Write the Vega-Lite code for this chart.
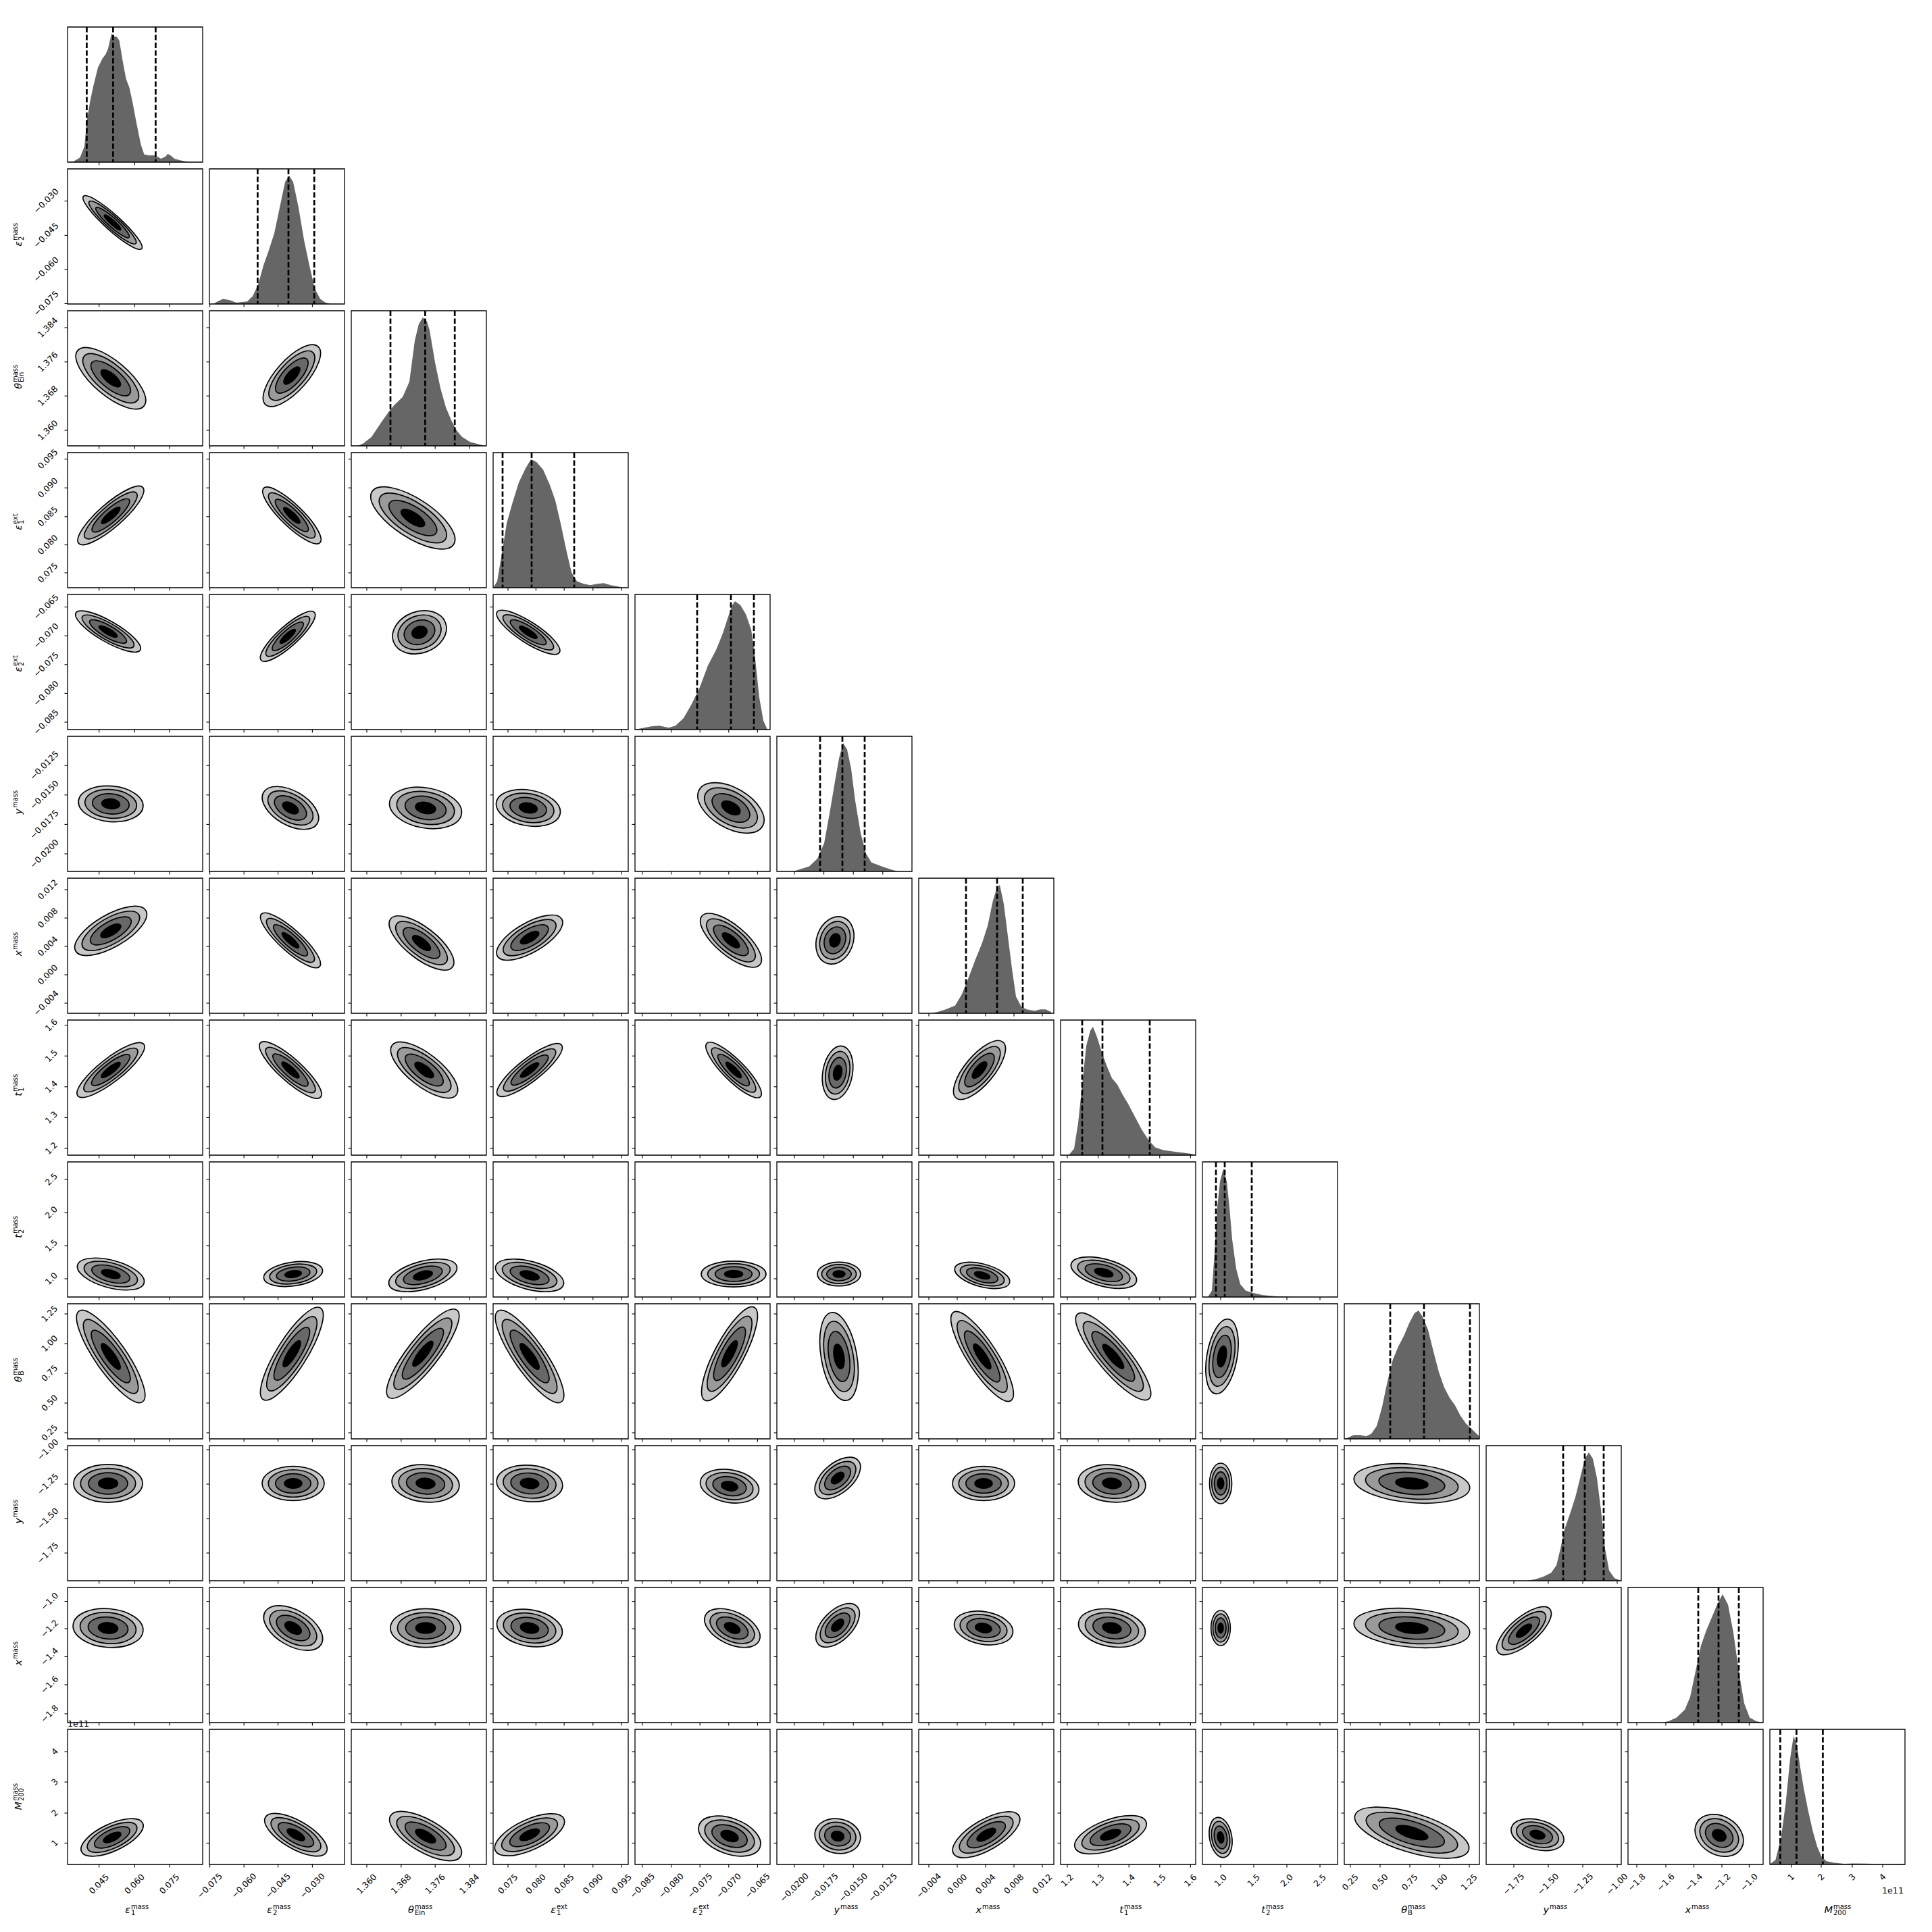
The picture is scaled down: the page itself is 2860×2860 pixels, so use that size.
{
"$schema": "https://vega.github.io/schema/vega-lite/v6.json",
"width": 2860, "height": 2860,
"autosize": {"type": "fit", "contains": "padding"},
"padding": 0,
"background": "white",
"config": {"view": {"stroke": null}},
"datasets": {
"params": [
{"i":0,"tx":[0.2335,0.4965,0.755],"tl":["0.045","0.060","0.075"],"q":[0.142,0.337,0.652],"m":"ε","sb":"1","sp":"mass"},
{"i":1,"tx":[0.003,0.256,0.508,0.762],"tl":["−0.075","−0.060","−0.045","−0.030"],"q":[0.357,0.585,0.776],"m":"ε","sb":"2","sp":"mass"},
{"i":2,"tx":[0.115,0.369,0.621,0.875],"tl":["1.360","1.368","1.376","1.384"],"q":[0.29,0.547,0.766],"m":"θ","sb":"Ein","sp":"mass"},
{"i":3,"tx":[0.11,0.317,0.526,0.739,0.952],"tl":["0.075","0.080","0.085","0.090","0.095"],"q":[0.07,0.285,0.6],"m":"ε","sb":"1","sp":"ext"},
{"i":4,"tx":[0.055,0.268,0.481,0.694,0.907],"tl":["−0.085","−0.080","−0.075","−0.070","−0.065"],"q":[0.46,0.71,0.88],"m":"ε","sb":"2","sp":"ext"},
{"i":5,"tx":[0.13,0.348,0.566,0.784],"tl":["−0.0200","−0.0175","−0.0150","−0.0125"],"q":[0.32,0.485,0.65],"m":"y","sb":"","sp":"mass"},
{"i":6,"tx":[0.075,0.285,0.495,0.705,0.915],"tl":["−0.004","0.000","0.004","0.008","0.012"],"q":[0.35,0.58,0.77],"m":"x","sb":"","sp":"mass"},
{"i":7,"tx":[0.05,0.278,0.506,0.734,0.962],"tl":["1.2","1.3","1.4","1.5","1.6"],"q":[0.16,0.31,0.66],"m":"t","sb":"1","sp":"mass"},
{"i":8,"tx":[0.135,0.38,0.625,0.87],"tl":["1.0","1.5","2.0","2.5"],"q":[0.1,0.165,0.365],"m":"t","sb":"2","sp":"mass"},
{"i":9,"tx":[0.045,0.265,0.485,0.705,0.925],"tl":["0.25","0.50","0.75","1.00","1.25"],"q":[0.34,0.59,0.93],"m":"θ","sb":"B","sp":"mass"},
{"i":10,"tx":[0.205,0.46,0.715,0.97],"tl":["−1.75","−1.50","−1.25","−1.00"],"q":[0.57,0.73,0.87],"m":"y","sb":"","sp":"mass"},
{"i":11,"tx":[0.065,0.28,0.488,0.695,0.897],"tl":["−1.8","−1.6","−1.4","−1.2","−1.0"],"q":[0.52,0.67,0.82],"m":"x","sb":"","sp":"mass"},
{"i":12,"tx":[0.158,0.38,0.61,0.835],"tl":["1","2","3","4"],"q":[0.077,0.197,0.392],"m":"M","sb":"200","sp":"mass"}
],
"hist": [
{"c":0,"f":[0,0.04,0.092,0.125,0.142,0.167,0.192,0.225,0.258,0.283,0.3,0.325,0.342,0.367,0.383,0.408,0.433,0.458,0.483,0.508,0.542,0.567,0.6,0.65,0.692,0.725,0.742,0.767,0.792,0.833,0.883,0.9],"h":[0,0.003,0.035,0.123,0.316,0.474,0.597,0.737,0.807,0.842,0.886,1.0,0.982,0.974,0.947,0.789,0.649,0.579,0.456,0.316,0.14,0.061,0.053,0.053,0.026,0.044,0.065,0.049,0.026,0.014,0.003,0]},
{"c":1,"f":[0.03,0.06,0.1,0.15,0.2,0.28,0.32,0.36,0.4,0.44,0.48,0.52,0.56,0.59,0.62,0.66,0.7,0.74,0.78,0.82,0.86,0.9],"h":[0,0.02,0.04,0.03,0.01,0.02,0.06,0.15,0.3,0.42,0.55,0.75,0.95,1.0,0.95,0.75,0.5,0.3,0.12,0.04,0.01,0]},
{"c":2,"f":[0.05,0.09,0.15,0.22,0.28,0.32,0.38,0.43,0.47,0.5,0.53,0.56,0.58,0.62,0.66,0.7,0.74,0.78,0.82,0.88,0.95,0.99],"h":[0,0.02,0.07,0.18,0.27,0.32,0.38,0.5,0.82,0.95,1.0,0.97,0.9,0.65,0.45,0.3,0.2,0.12,0.07,0.03,0.01,0]},
{"c":3,"f":[0,0.03,0.07,0.1,0.14,0.19,0.24,0.28,0.32,0.37,0.42,0.46,0.5,0.54,0.58,0.62,0.67,0.72,0.77,0.82,0.87,0.92,0.96],"h":[0,0.05,0.3,0.5,0.65,0.82,0.93,1.0,0.98,0.92,0.8,0.68,0.5,0.3,0.12,0.05,0.03,0.02,0.03,0.035,0.02,0.01,0]},
{"c":4,"f":[0,0.05,0.12,0.18,0.25,0.3,0.36,0.42,0.48,0.54,0.6,0.65,0.69,0.72,0.74,0.78,0.82,0.86,0.89,0.92,0.95,0.98],"h":[0,0.01,0.025,0.03,0.015,0.03,0.09,0.2,0.33,0.5,0.62,0.75,0.88,0.97,1.0,0.97,0.9,0.78,0.55,0.25,0.07,0]},
{"c":5,"f":[0.12,0.18,0.24,0.3,0.35,0.39,0.43,0.46,0.49,0.52,0.55,0.58,0.62,0.66,0.7,0.75,0.8,0.86,0.9],"h":[0,0.02,0.04,0.1,0.22,0.45,0.7,0.88,1.0,0.95,0.8,0.55,0.3,0.14,0.07,0.05,0.03,0.01,0]},
{"c":6,"f":[0.08,0.14,0.2,0.27,0.32,0.37,0.42,0.47,0.51,0.55,0.58,0.6,0.63,0.66,0.69,0.72,0.76,0.8,0.86,0.9,0.94,0.98],"h":[0,0.01,0.03,0.06,0.15,0.28,0.42,0.55,0.68,0.88,0.98,1.0,0.85,0.6,0.35,0.13,0.05,0.03,0.02,0.03,0.03,0.01]},
{"c":7,"f":[0.06,0.1,0.13,0.16,0.19,0.22,0.24,0.27,0.3,0.34,0.38,0.42,0.46,0.5,0.55,0.6,0.65,0.7,0.76,0.82,0.9,0.97,1.0],"h":[0,0.05,0.25,0.55,0.85,0.97,1.0,0.92,0.82,0.7,0.6,0.55,0.47,0.4,0.3,0.2,0.12,0.06,0.04,0.03,0.02,0.01,0]},
{"c":8,"f":[0.04,0.07,0.09,0.11,0.13,0.155,0.18,0.2,0.22,0.25,0.28,0.32,0.38,0.45,0.55,0.7],"h":[0,0.05,0.35,0.7,0.9,1.0,0.9,0.7,0.45,0.22,0.1,0.05,0.03,0.015,0.005,0]},
{"c":9,"f":[0,0.03,0.07,0.12,0.16,0.2,0.24,0.28,0.32,0.36,0.4,0.44,0.48,0.52,0.55,0.58,0.62,0.66,0.7,0.74,0.78,0.82,0.86,0.9,0.94,0.98,1.0],"h":[0,0.01,0.03,0.03,0.02,0.04,0.1,0.25,0.45,0.62,0.72,0.8,0.9,0.98,1.0,0.95,0.85,0.68,0.52,0.4,0.32,0.26,0.18,0.12,0.08,0.04,0.02]},
{"c":10,"f":[0.3,0.36,0.42,0.48,0.52,0.55,0.58,0.62,0.66,0.7,0.73,0.76,0.79,0.82,0.85,0.88,0.91,0.95,1.0],"h":[0,0.01,0.03,0.06,0.12,0.25,0.4,0.52,0.65,0.82,0.95,1.0,0.95,0.8,0.55,0.25,0.08,0.02,0]},
{"c":11,"f":[0.25,0.3,0.36,0.42,0.46,0.5,0.54,0.58,0.62,0.66,0.7,0.74,0.78,0.82,0.86,0.9,0.95,1.0],"h":[0,0.01,0.04,0.1,0.2,0.4,0.6,0.72,0.82,0.92,1.0,0.92,0.7,0.4,0.15,0.04,0.01,0]},
{"c":12,"f":[0,0.042,0.083,0.117,0.15,0.175,0.2,0.225,0.25,0.283,0.317,0.35,0.383,0.417,0.467,0.55,0.617,0.717,0.833,0.967,1.0],"h":[0.003,0.035,0.21,0.474,0.824,1.0,0.93,0.755,0.597,0.421,0.263,0.14,0.061,0.026,0.014,0.005,0.008,0.007,0.003,0.005,0.003]}
],
"panels": [
{"r":0,"c":0},
{"r":1,"c":0},{"r":1,"c":1},
{"r":2,"c":0},{"r":2,"c":1},{"r":2,"c":2},
{"r":3,"c":0},{"r":3,"c":1},{"r":3,"c":2},{"r":3,"c":3},
{"r":4,"c":0},{"r":4,"c":1},{"r":4,"c":2},{"r":4,"c":3},{"r":4,"c":4},
{"r":5,"c":0},{"r":5,"c":1},{"r":5,"c":2},{"r":5,"c":3},{"r":5,"c":4},{"r":5,"c":5},
{"r":6,"c":0},{"r":6,"c":1},{"r":6,"c":2},{"r":6,"c":3},{"r":6,"c":4},{"r":6,"c":5},{"r":6,"c":6},
{"r":7,"c":0},{"r":7,"c":1},{"r":7,"c":2},{"r":7,"c":3},{"r":7,"c":4},{"r":7,"c":5},{"r":7,"c":6},{"r":7,"c":7},
{"r":8,"c":0},{"r":8,"c":1},{"r":8,"c":2},{"r":8,"c":3},{"r":8,"c":4},{"r":8,"c":5},{"r":8,"c":6},{"r":8,"c":7},{"r":8,"c":8},
{"r":9,"c":0},{"r":9,"c":1},{"r":9,"c":2},{"r":9,"c":3},{"r":9,"c":4},{"r":9,"c":5},{"r":9,"c":6},{"r":9,"c":7},{"r":9,"c":8},{"r":9,"c":9},
{"r":10,"c":0},{"r":10,"c":1},{"r":10,"c":2},{"r":10,"c":3},{"r":10,"c":4},{"r":10,"c":5},{"r":10,"c":6},{"r":10,"c":7},{"r":10,"c":8},{"r":10,"c":9},{"r":10,"c":10},
{"r":11,"c":0},{"r":11,"c":1},{"r":11,"c":2},{"r":11,"c":3},{"r":11,"c":4},{"r":11,"c":5},{"r":11,"c":6},{"r":11,"c":7},{"r":11,"c":8},{"r":11,"c":9},{"r":11,"c":10},{"r":11,"c":11},
{"r":12,"c":0},{"r":12,"c":1},{"r":12,"c":2},{"r":12,"c":3},{"r":12,"c":4},{"r":12,"c":5},{"r":12,"c":6},{"r":12,"c":7},{"r":12,"c":8},{"r":12,"c":9},{"r":12,"c":10},{"r":12,"c":11},{"r":12,"c":12}
],
"blobs": [
{"r":1,"c":0,"u":0.333,"v":0.603,"a":0.29,"g":42,"e":"e20"},
{"r":2,"c":0,"u":0.32,"v":0.5,"a":0.32,"g":40,"e":"e40"},
{"r":2,"c":1,"u":0.61,"v":0.52,"a":0.29,"g":-48,"e":"e40"},
{"r":3,"c":0,"u":0.32,"v":0.535,"a":0.315,"g":-41,"e":"e28"},
{"r":3,"c":1,"u":0.61,"v":0.535,"a":0.29,"g":44,"e":"e28"},
{"r":3,"c":2,"u":0.456,"v":0.516,"a":0.36,"g":33,"e":"e40"},
{"r":4,"c":0,"u":0.3,"v":0.726,"a":0.275,"g":30,"e":"e28"},
{"r":4,"c":1,"u":0.58,"v":0.69,"a":0.265,"g":-42,"e":"e28"},
{"r":4,"c":2,"u":0.505,"v":0.72,"a":0.205,"g":-20,"e":"e75"},
{"r":4,"c":3,"u":0.26,"v":0.72,"a":0.275,"g":33,"e":"e28"},
{"r":5,"c":0,"u":0.32,"v":0.5,"a":0.24,"g":5,"e":"e55"},
{"r":5,"c":1,"u":0.6,"v":0.47,"a":0.23,"g":30,"e":"e55"},
{"r":5,"c":2,"u":0.55,"v":0.47,"a":0.27,"g":10,"e":"e55"},
{"r":5,"c":3,"u":0.26,"v":0.47,"a":0.24,"g":10,"e":"e55"},
{"r":5,"c":4,"u":0.71,"v":0.47,"a":0.27,"g":30,"e":"e55"},
{"r":6,"c":0,"u":0.32,"v":0.61,"a":0.3,"g":-30,"e":"e40"},
{"r":6,"c":1,"u":0.6,"v":0.54,"a":0.29,"g":42,"e":"e28"},
{"r":6,"c":2,"u":0.52,"v":0.52,"a":0.29,"g":38,"e":"e40"},
{"r":6,"c":3,"u":0.27,"v":0.56,"a":0.275,"g":-30,"e":"e40"},
{"r":6,"c":4,"u":0.71,"v":0.54,"a":0.28,"g":40,"e":"e40"},
{"r":6,"c":5,"u":0.43,"v":0.54,"a":0.18,"g":-70,"e":"e75"},
{"r":7,"c":0,"u":0.32,"v":0.63,"a":0.31,"g":-38,"e":"e28"},
{"r":7,"c":1,"u":0.6,"v":0.63,"a":0.3,"g":42,"e":"e28"},
{"r":7,"c":2,"u":0.54,"v":0.63,"a":0.3,"g":38,"e":"e40"},
{"r":7,"c":3,"u":0.27,"v":0.63,"a":0.3,"g":-38,"e":"e28"},
{"r":7,"c":4,"u":0.73,"v":0.63,"a":0.28,"g":45,"e":"e28"},
{"r":7,"c":5,"u":0.45,"v":0.61,"a":0.2,"g":-80,"e":"e55"},
{"r":7,"c":6,"u":0.45,"v":0.63,"a":0.27,"g":-50,"e":"e40"},
{"r":8,"c":0,"u":0.32,"v":0.17,"a":0.255,"g":15,"e":"e40"},
{"r":8,"c":1,"u":0.62,"v":0.17,"a":0.22,"g":-8,"e":"e40"},
{"r":8,"c":2,"u":0.53,"v":0.16,"a":0.26,"g":-15,"e":"e40"},
{"r":8,"c":3,"u":0.27,"v":0.16,"a":0.26,"g":15,"e":"e40"},
{"r":8,"c":4,"u":0.73,"v":0.17,"a":0.24,"g":0,"e":"e40"},
{"r":8,"c":5,"u":0.46,"v":0.17,"a":0.16,"g":0,"e":"e55"},
{"r":8,"c":6,"u":0.47,"v":0.16,"a":0.21,"g":15,"e":"e40"},
{"r":8,"c":7,"u":0.32,"v":0.18,"a":0.25,"g":15,"e":"e40"},
{"r":9,"c":0,"u":0.32,"v":0.61,"a":0.41,"g":55,"e":"e28"},
{"r":9,"c":1,"u":0.61,"v":0.63,"a":0.4,"g":-58,"e":"e28"},
{"r":9,"c":2,"u":0.53,"v":0.63,"a":0.41,"g":-52,"e":"e28"},
{"r":9,"c":3,"u":0.27,"v":0.61,"a":0.41,"g":55,"e":"e28"},
{"r":9,"c":4,"u":0.7,"v":0.63,"a":0.39,"g":-62,"e":"e28"},
{"r":9,"c":5,"u":0.46,"v":0.61,"a":0.33,"g":80,"e":"e40"},
{"r":9,"c":6,"u":0.47,"v":0.61,"a":0.39,"g":57,"e":"e28"},
{"r":9,"c":7,"u":0.39,"v":0.61,"a":0.41,"g":50,"e":"e28"},
{"r":9,"c":8,"u":0.145,"v":0.61,"a":0.28,"g":-80,"e":"e40"},
{"r":10,"c":0,"u":0.3,"v":0.72,"a":0.255,"g":0,"e":"e55"},
{"r":10,"c":1,"u":0.62,"v":0.72,"a":0.23,"g":0,"e":"e55"},
{"r":10,"c":2,"u":0.55,"v":0.72,"a":0.25,"g":5,"e":"e55"},
{"r":10,"c":3,"u":0.27,"v":0.72,"a":0.245,"g":5,"e":"e55"},
{"r":10,"c":4,"u":0.7,"v":0.7,"a":0.22,"g":10,"e":"e55"},
{"r":10,"c":5,"u":0.45,"v":0.76,"a":0.2,"g":-40,"e":"e55"},
{"r":10,"c":6,"u":0.48,"v":0.72,"a":0.23,"g":0,"e":"e55"},
{"r":10,"c":7,"u":0.38,"v":0.72,"a":0.25,"g":5,"e":"e55"},
{"r":10,"c":8,"u":0.135,"v":0.72,"a":0.15,"g":90,"e":"e55"},
{"r":10,"c":9,"u":0.5,"v":0.72,"a":0.43,"g":5,"e":"e33"},
{"r":11,"c":0,"u":0.3,"v":0.7,"a":0.26,"g":5,"e":"e55"},
{"r":11,"c":1,"u":0.62,"v":0.7,"a":0.24,"g":30,"e":"e55"},
{"r":11,"c":2,"u":0.55,"v":0.7,"a":0.26,"g":0,"e":"e55"},
{"r":11,"c":3,"u":0.27,"v":0.7,"a":0.245,"g":10,"e":"e55"},
{"r":11,"c":4,"u":0.72,"v":0.7,"a":0.22,"g":25,"e":"e55"},
{"r":11,"c":5,"u":0.45,"v":0.72,"a":0.2,"g":-45,"e":"e55"},
{"r":11,"c":6,"u":0.48,"v":0.7,"a":0.22,"g":10,"e":"e55"},
{"r":11,"c":7,"u":0.38,"v":0.7,"a":0.25,"g":10,"e":"e55"},
{"r":11,"c":8,"u":0.135,"v":0.7,"a":0.13,"g":90,"e":"e55"},
{"r":11,"c":9,"u":0.5,"v":0.7,"a":0.43,"g":5,"e":"e33"},
{"r":11,"c":10,"u":0.28,"v":0.68,"a":0.25,"g":-40,"e":"e40"},
{"r":12,"c":0,"u":0.33,"v":0.2,"a":0.25,"g":-25,"e":"e40"},
{"r":12,"c":1,"u":0.64,"v":0.22,"a":0.26,"g":30,"e":"e40"},
{"r":12,"c":2,"u":0.55,"v":0.21,"a":0.3,"g":30,"e":"e40"},
{"r":12,"c":3,"u":0.27,"v":0.22,"a":0.28,"g":-25,"e":"e40"},
{"r":12,"c":4,"u":0.7,"v":0.21,"a":0.24,"g":20,"e":"e55"},
{"r":12,"c":5,"u":0.45,"v":0.21,"a":0.17,"g":10,"e":"e75"},
{"r":12,"c":6,"u":0.5,"v":0.22,"a":0.28,"g":-30,"e":"e40"},
{"r":12,"c":7,"u":0.37,"v":0.22,"a":0.28,"g":-20,"e":"e40"},
{"r":12,"c":8,"u":0.135,"v":0.2,"a":0.15,"g":80,"e":"e55"},
{"r":12,"c":9,"u":0.5,"v":0.235,"a":0.44,"g":17,"e":"e33"},
{"r":12,"c":10,"u":0.38,"v":0.22,"a":0.2,"g":15,"e":"e55"},
{"r":12,"c":11,"u":0.675,"v":0.215,"a":0.19,"g":30,"e":"e75"}
]
},
"encoding": {
"x": {"field": "X", "type": "quantitative", "scale": {"domain": [-0.47619, 13.142857], "nice": false, "zero": false}, "axis": null},
"y": {"field": "Y", "type": "quantitative", "scale": {"domain": [-0.190476, 13.428571], "nice": false, "zero": false, "reverse": true}, "axis": null}
},
"layer": [
{"data": {"name": "hist"},
 "transform": [{"flatten": ["f", "h"]}, {"calculate": "datum.c + datum.f*0.952381", "as": "X"}, {"calculate": "datum.c + 0.952381*(1 - 0.95*datum.h)", "as": "Y"}, {"calculate": "datum.c + 0.952381", "as": "Y2"}],
 "mark": {"type": "area", "color": "#666666", "orient": "vertical", "interpolate": "linear"},
 "encoding": {"y2": {"field": "Y2"}, "detail": {"field": "c", "type": "nominal"}}},
{"data": {"name": "params"},
 "transform": [{"flatten": ["q"]}, {"calculate": "datum.i + datum.q*0.952381", "as": "X"}, {"calculate": "datum.i", "as": "Y"}, {"calculate": "datum.i + 0.952381", "as": "Y2"}],
 "mark": {"type": "rule", "color": "black", "strokeWidth": 2.7, "strokeDash": [8, 3.5]},
 "encoding": {"y2": {"field": "Y2"}}},
{"data": {"name": "blobs"},
 "transform": [{"calculate": "datum.c + datum.u*0.952381", "as": "X"}, {"calculate": "datum.r + (1 - datum.v)*0.952381", "as": "Y"}],
 "mark": {"type": "point", "filled": true, "fill": "#c8c8c8", "stroke": "black", "strokeWidth": 1.7, "opacity": 1},
 "encoding": {
  "size": {"field": "a", "type": "quantitative", "scale": {"type": "pow", "exponent": 2, "domain": [0, 1], "range": [0, 160000]}, "legend": null},
  "shape": {"field": "e", "type": "nominal", "scale": {"domain": ["e20", "e28", "e33", "e40", "e55", "e75"], "range": ["M-1,0C-1,-0.1105,-0.5523,-0.2,0,-0.2C0.5523,-0.2,1,-0.1105,1,0C1,0.1105,0.5523,0.2,0,0.2C-0.5523,0.2,-1,0.1105,-1,0Z", "M-1,0C-1,-0.1546,-0.5523,-0.28,0,-0.28C0.5523,-0.28,1,-0.1546,1,0C1,0.1546,0.5523,0.28,0,0.28C-0.5523,0.28,-1,0.1546,-1,0Z", "M-1,0C-1,-0.1823,-0.5523,-0.33,0,-0.33C0.5523,-0.33,1,-0.1823,1,0C1,0.1823,0.5523,0.33,0,0.33C-0.5523,0.33,-1,0.1823,-1,0Z", "M-1,0C-1,-0.2209,-0.5523,-0.4,0,-0.4C0.5523,-0.4,1,-0.2209,1,0C1,0.2209,0.5523,0.4,0,0.4C-0.5523,0.4,-1,0.2209,-1,0Z", "M-1,0C-1,-0.3038,-0.5523,-0.55,0,-0.55C0.5523,-0.55,1,-0.3038,1,0C1,0.3038,0.5523,0.55,0,0.55C-0.5523,0.55,-1,0.3038,-1,0Z", "M-1,0C-1,-0.4142,-0.5523,-0.75,0,-0.75C0.5523,-0.75,1,-0.4142,1,0C1,0.4142,0.5523,0.75,0,0.75C-0.5523,0.75,-1,0.4142,-1,0Z"]}, "legend": null},
  "angle": {"field": "g", "type": "quantitative", "scale": null}}},
{"data": {"name": "blobs"},
 "transform": [{"calculate": "datum.c + datum.u*0.952381", "as": "X"}, {"calculate": "datum.r + (1 - datum.v)*0.952381", "as": "Y"}],
 "mark": {"type": "point", "filled": true, "fill": "#9a9a9a", "stroke": "black", "strokeWidth": 1.7, "opacity": 1},
 "encoding": {
  "size": {"field": "a", "type": "quantitative", "scale": {"type": "pow", "exponent": 2, "domain": [0, 1], "range": [0, 102400]}, "legend": null},
  "shape": {"field": "e", "type": "nominal", "legend": null},
  "angle": {"field": "g", "type": "quantitative", "scale": null}}},
{"data": {"name": "blobs"},
 "transform": [{"calculate": "datum.c + datum.u*0.952381", "as": "X"}, {"calculate": "datum.r + (1 - datum.v)*0.952381", "as": "Y"}],
 "mark": {"type": "point", "filled": true, "fill": "#686868", "stroke": "black", "strokeWidth": 1.7, "opacity": 1},
 "encoding": {
  "size": {"field": "a", "type": "quantitative", "scale": {"type": "pow", "exponent": 2, "domain": [0, 1], "range": [0, 51840]}, "legend": null},
  "shape": {"field": "e", "type": "nominal", "legend": null},
  "angle": {"field": "g", "type": "quantitative", "scale": null}}},
{"data": {"name": "blobs"},
 "transform": [{"calculate": "datum.c + datum.u*0.952381", "as": "X"}, {"calculate": "datum.r + (1 - datum.v)*0.952381", "as": "Y"}],
 "mark": {"type": "point", "filled": true, "fill": "#000000", "stroke": "black", "strokeWidth": 1.7, "opacity": 1},
 "encoding": {
  "size": {"field": "a", "type": "quantitative", "scale": {"type": "pow", "exponent": 2, "domain": [0, 1], "range": [0, 12544]}, "legend": null},
  "shape": {"field": "e", "type": "nominal", "legend": null},
  "angle": {"field": "g", "type": "quantitative", "scale": null}}},
{"data": {"name": "panels"},
 "transform": [{"calculate": "datum.c", "as": "X"}, {"calculate": "datum.c + 0.952381", "as": "X2"}, {"calculate": "datum.r", "as": "Y"}, {"calculate": "datum.r + 0.952381", "as": "Y2"}],
 "mark": {"type": "rect", "filled": false, "color": "black", "stroke": "black", "strokeWidth": 1.3},
 "encoding": {"x2": {"field": "X2"}, "y2": {"field": "Y2"}}},
{"data": {"name": "panels"},
 "transform": [{"lookup": "c", "from": {"data": {"name": "params"}, "key": "i", "fields": ["tx"]}}, {"flatten": ["tx"]}, {"calculate": "datum.c + datum.tx*0.952381", "as": "X"}, {"calculate": "datum.r + 0.952381", "as": "Y"}, {"calculate": "datum.r + 0.952381 + 4.5/210", "as": "Y2"}],
 "mark": {"type": "rule", "color": "black", "strokeWidth": 1.1},
 "encoding": {"y2": {"field": "Y2"}}},
{"data": {"name": "panels"},
 "transform": [{"filter": "datum.c < datum.r"}, {"lookup": "r", "from": {"data": {"name": "params"}, "key": "i", "fields": ["tx"]}}, {"flatten": ["tx"]}, {"calculate": "datum.c", "as": "X"}, {"calculate": "datum.c - 4.5/210", "as": "X2"}, {"calculate": "datum.r + (1 - datum.tx)*0.952381", "as": "Y"}],
 "mark": {"type": "rule", "color": "black", "strokeWidth": 1.1},
 "encoding": {"x2": {"field": "X2"}}},
{"data": {"name": "params"},
 "transform": [{"flatten": ["tx", "tl"]}, {"calculate": "datum.i + datum.tx*0.952381", "as": "X"}, {"calculate": "12.952381 + (13 + (length(datum.tl)*7.3 + 9)*0.3535)/210", "as": "Y"}],
 "mark": {"type": "text", "angle": -45, "align": "center", "baseline": "middle", "font": "DejaVu Sans", "fontSize": 12.5, "color": "black"},
 "encoding": {"text": {"field": "tl"}}},
{"data": {"name": "params"},
 "transform": [{"filter": "datum.i >= 1"}, {"flatten": ["tx", "tl"]}, {"calculate": "-(13 + (length(datum.tl)*7.3 + 9)*0.3535)/210", "as": "X"}, {"calculate": "datum.i + (1 - datum.tx)*0.952381", "as": "Y"}],
 "mark": {"type": "text", "angle": -45, "align": "center", "baseline": "middle", "font": "DejaVu Sans", "fontSize": 12.5, "color": "black"},
 "encoding": {"text": {"field": "tl"}}},
{"data": {"name": "params"},
 "transform": [{"calculate": "datum.i + 0.47619", "as": "X"}, {"calculate": "13.295238", "as": "Y"}],
 "mark": {"type": "text", "align": "right", "baseline": "alphabetic", "dx": -7, "font": "DejaVu Sans", "fontStyle": "italic", "fontSize": 14.5, "color": "black"},
 "encoding": {"text": {"field": "m"}}},
{"data": {"name": "params"},
 "transform": [{"calculate": "datum.i + 0.47619", "as": "X"}, {"calculate": "13.295238", "as": "Y"}],
 "mark": {"type": "text", "align": "left", "baseline": "alphabetic", "dx": -6, "dy": -6, "font": "DejaVu Sans", "fontSize": 10, "color": "black"},
 "encoding": {"text": {"field": "sp"}}},
{"data": {"name": "params"},
 "transform": [{"calculate": "datum.i + 0.47619", "as": "X"}, {"calculate": "13.295238", "as": "Y"}],
 "mark": {"type": "text", "align": "left", "baseline": "alphabetic", "dx": -6, "dy": 3, "font": "DejaVu Sans", "fontSize": 10, "color": "black"},
 "encoding": {"text": {"field": "sb"}}},
{"data": {"name": "params"},
 "transform": [{"filter": "datum.i >= 1"}, {"calculate": "-0.32381", "as": "X"}, {"calculate": "datum.i + 0.47619", "as": "Y"}],
 "mark": {"type": "text", "angle": -90, "align": "right", "baseline": "alphabetic", "dx": -7, "font": "DejaVu Sans", "fontStyle": "italic", "fontSize": 14.5, "color": "black"},
 "encoding": {"text": {"field": "m"}}},
{"data": {"name": "params"},
 "transform": [{"filter": "datum.i >= 1"}, {"calculate": "-0.32381", "as": "X"}, {"calculate": "datum.i + 0.47619", "as": "Y"}],
 "mark": {"type": "text", "angle": -90, "align": "left", "baseline": "alphabetic", "dx": -6, "dy": -6, "font": "DejaVu Sans", "fontSize": 10, "color": "black"},
 "encoding": {"text": {"field": "sp"}}},
{"data": {"name": "params"},
 "transform": [{"filter": "datum.i >= 1"}, {"calculate": "-0.32381", "as": "X"}, {"calculate": "datum.i + 0.47619", "as": "Y"}],
 "mark": {"type": "text", "angle": -90, "align": "left", "baseline": "alphabetic", "dx": -6, "dy": 3, "font": "DejaVu Sans", "fontSize": 10, "color": "black"},
 "encoding": {"text": {"field": "sb"}}},
{"data": {"name": "params"},
 "transform": [{"filter": "datum.i == 12"}, {"calculate": "datum.i + 0.952381 - 2/210", "as": "X"}, {"calculate": "datum.i + 0.952381 + 43/210", "as": "Y"}],
 "mark": {"type": "text", "text": "1e11", "align": "right", "baseline": "alphabetic", "font": "DejaVu Sans", "fontSize": 12.7, "color": "black"},
 "encoding": {}},
{"data": {"name": "params"},
 "transform": [{"filter": "datum.i == 12"}, {"calculate": "0", "as": "X"}, {"calculate": "datum.i - 4/210", "as": "Y"}],
 "mark": {"type": "text", "text": "1e11", "align": "left", "baseline": "alphabetic", "font": "DejaVu Sans", "fontSize": 12.7, "color": "black"},
 "encoding": {}}
],
"resolve": {"scale": {"size": "independent"}}
}
